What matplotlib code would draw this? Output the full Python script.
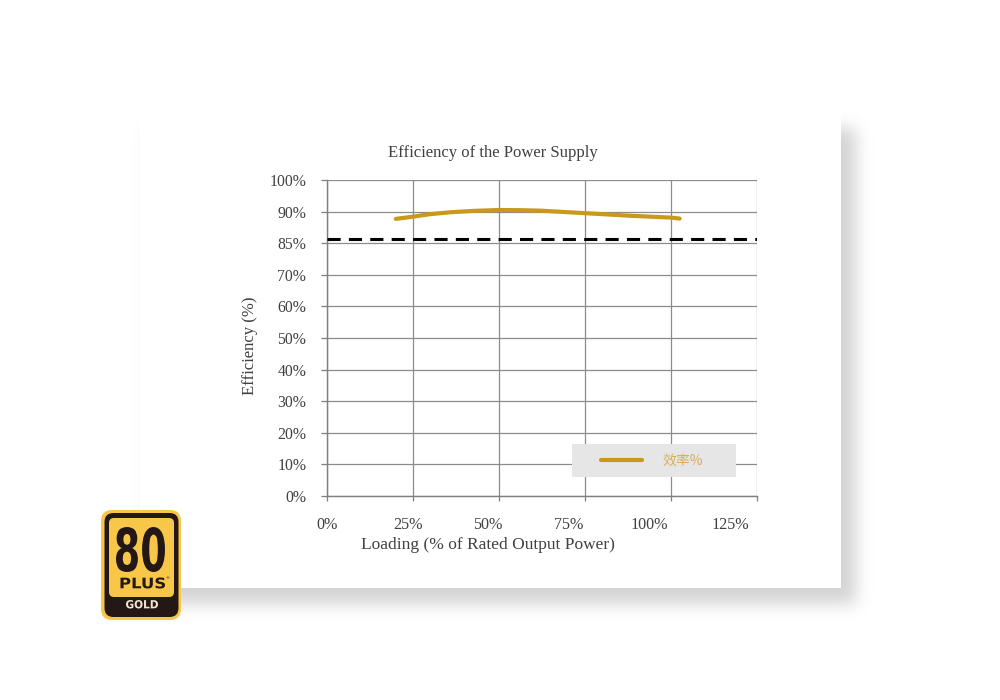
import math
import numpy as np
import matplotlib
matplotlib.use("Agg")
import matplotlib.pyplot as plt
from matplotlib.patches import Rectangle, FancyBboxPatch, PathPatch
from matplotlib.textpath import TextPath
from matplotlib.font_manager import FontProperties
from matplotlib.transforms import Affine2D

# ---------------- data ----------------
load_pct = [20, 25, 30, 36, 43, 50, 56, 62, 75, 88, 100, 102.5]
efficiency = [87.7, 88.4, 89.2, 89.8, 90.25, 90.5, 90.45, 90.3, 89.5, 88.7, 88.1, 87.8]
reference_level = 81.2          # dashed 80 PLUS reference line (axis units)
y_ticks = [0, 10, 20, 30, 40, 50, 60, 70, 80, 90, 100]
y_tick_labels = ['0%', '10%', '20%', '30%', '40%', '50%', '60%', '70%', '85%', '90%', '100%']
x_grid = [0, 25, 50, 75, 100, 125]
x_tick_labels = ['0%', '25%', '50%', '75%', '100%', '125%']
series_name = '效率%'
title = 'Efficiency of the Power Supply'
x_title = 'Loading (% of Rated Output Power)'
y_title = 'Efficiency (%)'

TEXT = '#404040'
GOLD = '#c8991a'
SERIF = ['Liberation Serif', 'DejaVu Serif']

fig = plt.figure(figsize=(10, 7), dpi=100)
fig.patch.set_facecolor('white')

# ---------------- background panel with shadow ----------------
bg = fig.add_axes([0, 0, 1, 1], zorder=0)
bg.set_xlim(0, 1000)
bg.set_ylim(700, 0)
bg.axis('off')

erf = np.vectorize(math.erf, otypes=[float])
xs = np.arange(1000, dtype=float) + 0.5
ys = np.arange(700, dtype=float) + 0.5
sig = 8.0 * math.sqrt(2)
sx = 0.5 * (erf((xs - 150) / sig) - erf((xs - 856) / sig))
sy = 0.5 * (erf((ys - 128) / sig) - erf((ys - 604) / sig))
a = 0.17 * np.outer(sy, sx)
a[a < 0.002] = 0.0
gray = np.round(255 * (1.0 - a)).astype(np.uint8)
rgb = np.dstack([gray, gray, gray])
bg.imshow(rgb, extent=(0, 1000, 700, 0), interpolation='nearest', aspect='auto', zorder=0)
bg.add_patch(Rectangle((140, 105), 841 - 140, 588 - 105, facecolor='white', edgecolor='none', zorder=1))

# ---------------- chart ----------------
ax = fig.add_axes([0.327, 1 - 496 / 700, 0.430, (496 - 180) / 700], zorder=2)
ax.set_facecolor('white')
ax.set_xlim(0, 125)
ax.set_ylim(0, 100)

ax.set_yticks(y_ticks)
ax.set_yticklabels(y_tick_labels)
ax.set_xticks(x_grid)
ax.set_xticklabels([''] * len(x_grid))
ax.xaxis.remove_overlapping_locs = False
step = 23.43
ax.set_xticks([i * step for i in range(len(x_tick_labels))], minor=True)
ax.set_xticklabels(x_tick_labels, minor=True)

ax.grid(True, which='major', color='#8c8c8c', linewidth=0.9)
ax.set_axisbelow(True)
for side in ['top', 'right']:
    ax.spines[side].set_visible(False)
for side in ['left', 'bottom']:
    ax.spines[side].set_color('#7f7f7f')
    ax.spines[side].set_linewidth(1.0)

ax.tick_params(axis='y', which='major', length=4, width=0.9, color='#7f7f7f',
               pad=11, labelsize=11.3, labelcolor=TEXT)
ax.tick_params(axis='x', which='major', length=3.5, width=0.9, color='#7f7f7f', pad=0)
ax.tick_params(axis='x', which='minor', length=0, pad=15, labelsize=11.6, labelcolor=TEXT)
for lab in ax.get_yticklabels() + ax.get_xticklabels(minor=True):
    lab.set_family(SERIF)

ax.axhline(reference_level, color='black', linewidth=2.2, linestyle=(0, (4.3, 2.7)), zorder=3)
line, = ax.plot(load_pct, efficiency, color=GOLD, linewidth=3.0,
                solid_capstyle='round', solid_joinstyle='round', zorder=4, label=series_name)

# legend box
ax.add_patch(Rectangle(((572 - 327) / 430, (496 - 477) / 316), (736 - 572) / 430, (477 - 444) / 316,
                       transform=ax.transAxes, facecolor='#e6e6e6', edgecolor='none', zorder=5))
leg = ax.legend(loc='center left', bbox_to_anchor=((601 - 327) / 430, (496 - 461) / 316),
                frameon=False, borderpad=0, borderaxespad=0, handlelength=2.95,
                handletextpad=1.5, prop={'family': ['Noto Sans CJK SC', 'DejaVu Sans'], 'size': 10})
leg.set_zorder(6)
for t in leg.get_texts():
    t.set_color('#d9ae5c')

fig.text(0.493, 1 - 153 / 700, title, ha='center', va='center', fontsize=12,
         color=TEXT, family=SERIF)
ax.set_xlabel(x_title, fontsize=12.5, color=TEXT, family=SERIF, va='center')
ax.xaxis.set_label_coords((488 - 327) / 430, (496 - 545) / 316)
ax.set_ylabel(y_title, fontsize=12, color=TEXT, family=SERIF, va='center')
ax.yaxis.set_label_coords((250 - 327) / 430, (496 - 346) / 316)

# ---------------- 80 PLUS GOLD badge ----------------
bd = fig.add_axes([0, 0, 1, 1], zorder=7)
bd.set_xlim(0, 1000)
bd.set_ylim(700, 0)
bd.axis('off')
YEL = '#f8c74a'
DARK = '#231815'
bd.add_patch(FancyBboxPatch((101 + 11, 510 + 11), 80 - 22, 110 - 22,
                            boxstyle='round,pad=11', facecolor=YEL, edgecolor='none'))
bd.add_patch(FancyBboxPatch((104.5 + 9, 513 + 9), 74 - 18, 104 - 18,
                            boxstyle='round,pad=9', facecolor=DARK, edgecolor='none'))
bd.add_patch(FancyBboxPatch((109 + 5, 518 + 5), 65 - 10, 74 - 5,
                            boxstyle='round,pad=5', facecolor=YEL, edgecolor='none'))
bd.add_patch(Rectangle((109, 585), 65, 7, facecolor=YEL, edgecolor='none'))


def fit_text(axh, txt, box, color, weight='bold', family='DejaVu Sans'):
    x0, y0, x1, y1 = box
    p = TextPath((0, 0), txt, size=10, prop=FontProperties(family=family, weight=weight))
    e = p.get_extents()
    tr = Affine2D().translate(-e.x0, -e.y0).scale((x1 - x0) / e.width, -(y1 - y0) / e.height).translate(x0, y1)
    axh.add_patch(PathPatch(tr.transform_path(p), facecolor=color, edgecolor='none'))


fit_text(bd, '80', (116, 527, 165, 572), DARK)
fit_text(bd, 'PLUS', (120.5, 577.5, 165, 588.5), DARK, weight='heavy')
bd.text(167.5, 578.5, '®', fontsize=3, color=DARK, ha='center', va='center')
fit_text(bd, 'GOLD', (126, 600, 158, 608.5), '#f2e6d0')

fig.savefig('out.png', dpi=100, facecolor='white')
